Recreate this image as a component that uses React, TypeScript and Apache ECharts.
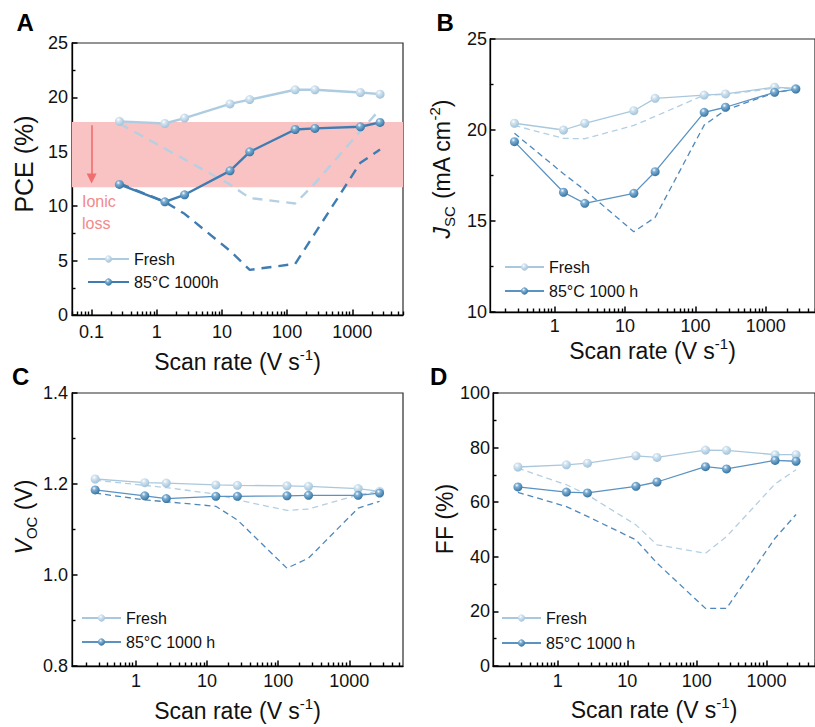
import React, { useEffect, useRef } from 'react';
import * as echarts from 'echarts';

// ---------- data ----------
const SCAN_RATES = [0.267, 1.33, 2.67, 13.3, 26.7, 133, 267, 1333, 2667];

const PCE_FRESH = [17.8, 17.6, 18.1, 19.4, 19.8, 20.7, 20.7, 20.45, 20.3];
const PCE_AGED = [12.0, 10.4, 11.05, 13.25, 15.0, 17.05, 17.15, 17.3, 17.7];
const PCE_FRESH_REV = [17.6, 15.3, 14.3, 12.0, 10.75, 10.25, 12.1, 16.9, 18.9];
const PCE_AGED_REV = [12.1, 10.4, 9.3, 5.9, 4.15, 4.7, 7.5, 14.0, 15.2];

const JSC_FRESH = [20.37, 20.0, 20.37, 21.06, 21.74, 21.92, 21.98, 22.35, 22.29];
const JSC_AGED = [19.36, 16.58, 15.97, 16.52, 17.71, 20.97, 21.25, 22.07, 22.25];
const JSC_FRESH_REV = [20.25, 19.54, 19.52, 20.25, 20.75, 21.92, 21.95, 22.3, 22.28];
const JSC_AGED_REV = [19.82, 17.6, 16.7, 14.41, 15.2, 20.27, 21.1, 22.05, 22.23];

const VOC_FRESH = [1.211, 1.203, 1.202, 1.198, 1.197, 1.196, 1.195, 1.19, 1.184];
const VOC_AGED = [1.187, 1.174, 1.168, 1.173, 1.173, 1.174, 1.175, 1.175, 1.18];
const VOC_FRESH_REV = [1.208, 1.197, 1.192, 1.178, 1.165, 1.142, 1.145, 1.176, 1.185];
const VOC_AGED_REV = [1.18, 1.165, 1.161, 1.151, 1.121, 1.015, 1.037, 1.147, 1.162];

const FF_FRESH = [72.9, 73.7, 74.3, 77.0, 76.4, 79.1, 79.0, 77.4, 77.4];
const FF_AGED = [65.6, 63.7, 63.4, 65.8, 67.4, 73.0, 72.2, 75.3, 75.0];
const FF_FRESH_REV = [72.5, 66.4, 62.7, 51.7, 44.4, 41.3, 47.4, 66.7, 71.9];
const FF_AGED_REV = [63.6, 58.4, 54.8, 46.2, 37.7, 21.1, 21.1, 46.8, 55.5];

const X_MAJOR_TICKS = [0.1, 1, 10, 100, 1000];
const X_MINOR_TICKS: number[] = [];
[0.01, 0.1, 1, 10, 100, 1000].forEach((d) => {
  for (let k = 2; k <= 9; k++) X_MINOR_TICKS.push(Number((k * d).toPrecision(3)));
});

const BAND_TOP = 17.75;
const BAND_BOTTOM = 11.75;
const ARROW_X = 0.1;
const ARROW_FROM = 17.45;
const ARROW_TO = 12.55;

const FRESH_LABEL = 'Fresh';
const AGED_LABEL_A = '85°C 1000h';
const AGED_LABEL = '85°C 1000 h';

// ---------- styling ----------
const FONT = '"Liberation Sans", Arial, Helvetica, sans-serif';
const INK = '#111';
const AXIS = '#000';

const sphere = (light: string, base: string) =>
  new echarts.graphic.RadialGradient(0.38, 0.32, 0.7, [
    { offset: 0, color: '#ffffff' },
    { offset: 0.3, color: light },
    { offset: 1, color: base },
  ]);

const makeRich = (size: number) => ({
  n: { fontSize: size, lineHeight: 30, verticalAlign: 'middle', fontFamily: FONT, color: INK },
  i: { fontSize: size, lineHeight: 30, verticalAlign: 'middle', fontStyle: 'italic', fontFamily: FONT, color: INK },
  sub: { fontSize: 15, lineHeight: 18, verticalAlign: 'bottom', fontFamily: FONT, color: INK },
  sup: { fontSize: 15, lineHeight: 18, verticalAlign: 'top', fontFamily: FONT, color: INK },
});

const X_NAME = '{n|Scan rate (V s}{sup|-1}{n|)}';

type Panel = {
  key: string;
  grid: { left: number; top: number; width: number; height: number };
  xMin: number;
  xMax: number;
  yMin: number;
  yMax: number;
  yInterval: number;
  yName: string;
  yNameSize: number;
  yFormat?: (v: number) => string;
  fresh: number[];
  aged: number[];
  freshRev: number[];
  agedRev: number[];
  agedLabel: string;
  thick: boolean;
  legend: { left: number; top: number; itemWidth: number; itemGap: number };
  xNameGap: number;
  yNameGap: number;
  yNamePad: number;
  xLabelMargin: number;
  yLabelMargin: number;
  letter: { x: number; y: number };
};

const PANELS: Panel[] = [
  {
    key: 'A',
    grid: { left: 72, top: 43, width: 331, height: 272 },
    xMin: 0.05, xMax: 6000, yMin: 0, yMax: 25, yInterval: 5,
    yName: '{n|PCE (%)}', yNameSize: 25,
    fresh: PCE_FRESH, aged: PCE_AGED, freshRev: PCE_FRESH_REV, agedRev: PCE_AGED_REV,
    agedLabel: AGED_LABEL_A, thick: true,
    legend: { left: 87, top: 250, itemWidth: 41, itemGap: 5 },
    xNameGap: 32, yNameGap: 33, yNamePad: 30, xLabelMargin: 8, yLabelMargin: 4,
    letter: { x: 16.5, y: 22.5 },
  },
  {
    key: 'B',
    grid: { left: 490, top: 39, width: 326, height: 273 },
    xMin: 0.12, xMax: 5000, yMin: 10, yMax: 25, yInterval: 5,
    yName: '{i|J}{sub|SC}{n| (mA cm}{sup|-2}{n|)}', yNameSize: 23,
    fresh: JSC_FRESH, aged: JSC_AGED, freshRev: JSC_FRESH_REV, agedRev: JSC_AGED_REV,
    agedLabel: AGED_LABEL, thick: false,
    legend: { left: 504, top: 258, itemWidth: 39, itemGap: 6 },
    xNameGap: 21, yNameGap: 33, yNamePad: 13, xLabelMargin: 5, yLabelMargin: 3,
    letter: { x: 436.5, y: 22.5 },
  },
  {
    key: 'C',
    grid: { left: 72, top: 393, width: 331, height: 273 },
    xMin: 0.126, xMax: 5700, yMin: 0.8, yMax: 1.4, yInterval: 0.2,
    yName: '{i|V}{sub|OC}{n| (V)}', yNameSize: 23,
    yFormat: (v: number) => v.toFixed(1),
    fresh: VOC_FRESH, aged: VOC_AGED, freshRev: VOC_FRESH_REV, agedRev: VOC_AGED_REV,
    agedLabel: AGED_LABEL, thick: false,
    legend: { left: 81, top: 609, itemWidth: 39, itemGap: 6 },
    xNameGap: 30, yNameGap: 33, yNamePad: 25, xLabelMargin: 6, yLabelMargin: 4,
    letter: { x: 12, y: 376 },
  },
  {
    key: 'D',
    grid: { left: 493, top: 393, width: 328, height: 273 },
    xMin: 0.117, xMax: 5000, yMin: 0, yMax: 100, yInterval: 20,
    yName: '{n|FF (%)}', yNameSize: 23,
    fresh: FF_FRESH, aged: FF_AGED, freshRev: FF_FRESH_REV, agedRev: FF_AGED_REV,
    agedLabel: AGED_LABEL, thick: false,
    legend: { left: 501, top: 609, itemWidth: 39, itemGap: 7 },
    xNameGap: 29, yNameGap: 29, yNamePad: 21, xLabelMargin: 6, yLabelMargin: 3,
    letter: { x: 430, y: 376 },
  },
];

const fmtX = (v: number) => (v < 1 ? v.toFixed(1) : String(Math.round(v)));

function buildOption() {
  const grid: any[] = [];
  const xAxis: any[] = [];
  const yAxis: any[] = [];
  const series: any[] = [];
  const legend: any[] = [];
  const graphic: any[] = [];

  PANELS.forEach((p, gi) => {
    grid.push({
      ...p.grid,
      show: true,
      borderColor: '#2a2a2a',
      borderWidth: 1.2,
      backgroundColor: 'transparent',
    });
    xAxis.push({
      type: 'log',
      logBase: 10,
      gridIndex: gi,
      position: 'bottom',
      min: p.xMin,
      max: p.xMax,
      axisLine: { show: true, lineStyle: { color: AXIS, width: 1.3 } },
      axisTick: { show: true, inside: true, length: 5.5, customValues: X_MAJOR_TICKS, lineStyle: { color: AXIS, width: 1.5 } },
      axisLabel: {
        show: true,
        margin: p.xLabelMargin,
        fontSize: 18,
        color: INK,
        fontFamily: FONT,
        customValues: X_MAJOR_TICKS,
        formatter: fmtX,
      },
      minorTick: { show: false },
      splitLine: { show: false },
      name: X_NAME,
      nameLocation: 'middle',
      nameGap: p.xNameGap,
      nameTextStyle: { rich: makeRich(23) },
    });
    xAxis.push({
      type: 'log',
      logBase: 10,
      gridIndex: gi,
      position: 'bottom',
      min: p.xMin,
      max: p.xMax,
      axisLine: { show: false },
      axisTick: { show: true, inside: true, length: 3.5, customValues: X_MINOR_TICKS, lineStyle: { color: AXIS, width: 1.4 } },
      axisLabel: { show: false },
      splitLine: { show: false },
    });
    yAxis.push({
      type: 'value',
      gridIndex: gi,
      min: p.yMin,
      max: p.yMax,
      interval: p.yInterval,
      axisLine: { show: true, lineStyle: { color: AXIS, width: 1.3 } },
      axisTick: { show: true, inside: true, length: 5.5, lineStyle: { color: AXIS, width: 1.5 } },
      minorTick: { show: true, splitNumber: 2, length: 3.5, lineStyle: { color: AXIS, width: 1.4 } },
      axisLabel: {
        margin: p.yLabelMargin,
        fontSize: 18,
        color: INK,
        fontFamily: FONT,
        formatter: p.yFormat,
      },
      splitLine: { show: false },
      name: p.yName,
      nameLocation: 'middle',
      nameRotate: 90,
      nameGap: p.yNameGap,
      nameTextStyle: { rich: makeRich(p.yNameSize), padding: [0, 0, 0, p.yNamePad] },
    });

    const xi = gi * 2;
    const w = p.thick ? 2.4 : 1.3;
    const dash = p.thick ? [10, 7] : [6, 4];
    const freshLine = p.thick ? '#aecce1' : '#a9c8de';
    const agedLine = p.thick ? '#3f7cb2' : '#5a92c2';
    const freshDash = p.thick ? '#b5d0e3' : '#b3cfe3';
    const agedDash = p.thick ? '#3f7cb1' : '#4f89bc';
    const mk = (arr: number[]) => SCAN_RATES.map((r, i) => [r, arr[i]]);
    const freshName = `${FRESH_LABEL}|${p.key}`;
    const agedName = `${p.agedLabel}|${p.key}`;

    const freshRevSeries: any = {
      type: 'line',
      name: `${FRESH_LABEL} reverse|${p.key}`,
      xAxisIndex: xi,
      yAxisIndex: gi,
      data: mk(p.freshRev),
      showSymbol: false,
      symbol: 'none',
      lineStyle: { color: freshDash, width: w, type: dash },
      z: 2,
      silent: true,
    };
    if (p.key === 'A') {
      freshRevSeries.markArea = {
        silent: true,
        itemStyle: { color: '#f9c3c3' },
        data: [[{ yAxis: BAND_TOP }, { yAxis: BAND_BOTTOM }]],
      };
      freshRevSeries.markLine = {
        silent: true,
        symbol: ['none', 'triangle'],
        symbolSize: 10,
        label: { show: false },
        lineStyle: { color: '#f06e6e', width: 1.6, type: 'solid' },
        data: [[{ coord: [ARROW_X, ARROW_FROM] }, { coord: [ARROW_X, ARROW_TO] }]],
      };
    }
    series.push(freshRevSeries);
    series.push({
      type: 'line',
      name: `${p.agedLabel} reverse|${p.key}`,
      xAxisIndex: xi,
      yAxisIndex: gi,
      data: mk(p.agedRev),
      showSymbol: false,
      symbol: 'none',
      lineStyle: { color: agedDash, width: w, type: dash },
      z: 2,
      silent: true,
    });
    series.push({
      type: 'line',
      name: freshName,
      xAxisIndex: xi,
      yAxisIndex: gi,
      data: mk(p.fresh),
      symbol: 'circle',
      symbolSize: 9,
      lineStyle: { color: freshLine, width: w },
      itemStyle: { color: sphere('#d3e4f0', '#9fc1da') },
      z: 3,
    });
    series.push({
      type: 'line',
      name: agedName,
      xAxisIndex: xi,
      yAxisIndex: gi,
      data: mk(p.aged),
      symbol: 'circle',
      symbolSize: 9,
      lineStyle: { color: agedLine, width: w },
      itemStyle: { color: sphere('#7fb0d6', '#33729f') },
      z: 4,
    });

    legend.push({
      orient: 'vertical',
      left: p.legend.left,
      top: p.legend.top,
      padding: 0,
      itemWidth: p.legend.itemWidth,
      itemHeight: 9,
      itemGap: p.legend.itemGap,
      selectedMode: false,
      data: [freshName, agedName],
      formatter: (n: string) => n.split('|')[0],
      textStyle: { fontSize: 16, lineHeight: 18, color: INK, fontFamily: FONT },
    });

    graphic.push({
      type: 'text',
      left: p.letter.x,
      top: p.letter.y - 12,
      style: { text: p.key, font: `bold 24px ${FONT}`, fill: '#000' },
    });
  });

  graphic.push({
    type: 'text',
    left: 82,
    top: 191,
    style: {
      text: 'Ionic\nloss',
      font: `16px ${FONT}`,
      lineHeight: 21.5,
      fill: '#f28a8a',
    },
  });

  return {
    animation: false,
    backgroundColor: '#ffffff',
    textStyle: { fontFamily: FONT },
    grid,
    xAxis,
    yAxis,
    series,
    legend,
    graphic,
  };
}

export default function App() {
  const ref = useRef<HTMLDivElement>(null);
  useEffect(() => {
    if (!ref.current) return;
    const chart = echarts.init(ref.current, undefined, { renderer: 'svg' });
    chart.setOption(buildOption() as any);
    return () => chart.dispose();
  }, []);
  return (
    <div
      ref={ref}
      style={{ position: 'absolute', left: 0, top: 0, width: 815, height: 727, background: '#fff' }}
    />
  );
}
